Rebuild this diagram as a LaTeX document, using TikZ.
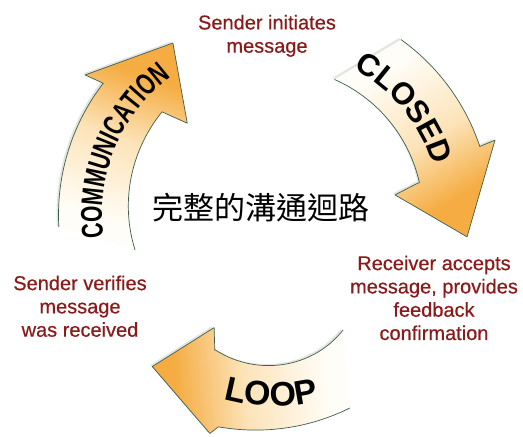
\documentclass[tikz,border=0pt]{standalone}
\usepackage{fontspec}
\setmainfont{Liberation Sans}
\newfontfamily\cjkfont{Noto Sans CJK TC}
\newfontfamily\commfont[FakeStretch=0.70]{Liberation Sans}
\newfontfamily\labelfont[FakeBold=0.5]{Liberation Sans}
\usetikzlibrary{decorations.text}
\definecolor{tailc}{RGB}{255,253,247}
\definecolor{midc}{RGB}{252,227,184}
\definecolor{headc}{RGB}{245,172,66}
\definecolor{edgec}{RGB}{60,95,75}
\definecolor{redtext}{RGB}{139,26,26}
\definecolor{shadowc}{RGB}{205,208,200}
\pgfdeclareverticalshading{arrowshade}{100bp}{color(0bp)=(tailc); color(30bp)=(tailc); color(52bp)=(midc); color(70bp)=(headc); color(100bp)=(headc)}
\newcommand\commfmt{\commfont\bfseries\fontsize{30}{32}\selectfont}
\newcommand\closedfmt{\bfseries\fontsize{31}{33}\selectfont}
\newcommand\loopfmt{\bfseries\fontsize{34}{36}\selectfont}
\def\commpath{plot[domain=183.2:142.5,samples=30] (\x:{216.5}) -- (143.6:236) -- (120.7:200) -- (133.7:127) -- (137.6:152.9) -- plot[domain=137.6:194,samples=30] (\x:{153-(\x-137.6)*0.155})}
\def\closedpath{plot[domain=54.3:18.5,samples=30] (\x:{216}) -- (18.8:232.4) -- (-6.5:193.3) -- (9.5:121.7) -- (12.6:146.5) -- plot[domain=12.6:66.3,samples=30] (\x:{148})}
\def\looppath{plot[domain=-68.8:-105,samples=30] (\x:{207+(-68.8-\x)*0.34}) -- (-106.6:228) -- (-129:195) -- (-118.4:128) -- (-114:148) -- plot[domain=-114:-59.4,samples=30] (\x:{151-0.0123*(\x+97)^2})}
\tikzset{
  arrowshadow/.style={fill=shadowc, opacity=0.55},
  arrowedge/.style={draw=edgec, line width=0.7pt, line join=round},
  redlabel/.style={text=redtext, align=center, inner sep=0pt, anchor=north, font=\labelfont\fontsize{20}{23.3}\selectfont},
}
\begin{document}
\begin{tikzpicture}[x=1pt,y=1pt]
\useasboundingbox (0,0) rectangle (523,437);
\fill[white] (0,0) rectangle (523,437);
\begin{scope}[shift={(275,222)}]
  % shadows
  \fill[arrowshadow, shift={(-2,1.5)}] \commpath -- cycle;
  \fill[arrowshadow, shift={(-2,1.5)}] \closedpath -- cycle;
  \fill[arrowshadow, shift={(-2,1.5)}] \looppath -- cycle;
  % arrows
  \shade[shading=arrowshade, shading angle=-18.5] \commpath -- cycle;
  \draw[arrowedge] \commpath;
  \shade[shading=arrowshade, shading angle=-149.6] \closedpath -- cycle;
  \draw[arrowedge] \closedpath;
  \shade[shading=arrowshade, shading angle=95.5] \looppath -- cycle;
  \draw[arrowedge] \looppath;
  % arrow labels
  \path[decorate, decoration={text along path, text align=center, text={|\commfmt|COMMUNICATION}}]
    (197:173) arc[start angle=197, end angle=117.5, radius=173];
  \path[decorate, decoration={text along path, text align=center, text={|\closedfmt|CLOSED}}]
    (69.6:166) arc[start angle=69.6, end angle=9.6, radius=166];
  \path[decorate, decoration={text along path, text align=center, text={|\loopfmt|LOOP}}]
    (-111.2:191) arc[start angle=-111.2, end angle=-71.2, radius=191];
\end{scope}
\node[redlabel] (init) at (267,422.3) {Sender initiates\\message};
\node[redlabel] (recv) at (434,181.6) {Receiver accepts\\message, provides\\feedback\\confirmation};
\node[redlabel] (verify) at (80,161.6) {Sender verifies\\message\\was received};
\node[inner sep=0pt, font=\cjkfont\fontsize{31}{33}\selectfont] (title) at (261,229.5) {完整的溝通迴路};
\end{tikzpicture}
\end{document}
